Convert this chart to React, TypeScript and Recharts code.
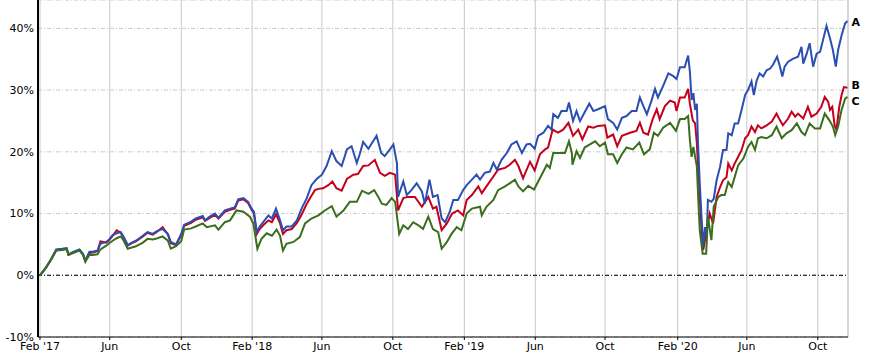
import React from "react";
import { LineChart, Line, XAxis, YAxis, CartesianGrid, ReferenceLine, LabelList } from "recharts";

// x = calendar days since 1 Feb 2017, y = cumulative return in %
const seriesA: [number, number][] = [
  [0,0],[10,1.2],[19,2.6],[28,4.2],[38,4.3],[46,4.4],[49,3.4],[57,3.8],[68,4.2],[74,3.5],[78,2.4],[85,3.8],[91,3.8],[99,4.0],[104,5.1],[114,5.4],[119,5.8],[125,6.5],[132,6.8],[139,7.0],[144,6.2],[151,4.9],[158,5.3],[165,5.6],[177,6.4],[185,7.0],[194,6.7],[202,7.2],[211,7.5],[220,6.7],[225,5.4],[234,5.0],[243,6.7],[248,8.2],[260,8.7],[268,9.2],[280,9.6],
  [284,8.9],[292,9.5],[301,10.0],[307,9.3],[318,10.5],[327,10.8],[335,11.0],[341,12.3],[350,12.5],[358,11.9],[364,10.8],[368,10.3],[373,7.0],[378,7.9],[384,8.6],[393,9.7],[399,9.2],[406,10.8],[413,8.9],[418,7.3],[424,7.9],[433,7.9],[442,8.9],[450,10.8],[459,12.5],[467,14.6],[476,15.6],[485,16.3],[493,17.7],[502,20.1],[510,18.5],[519,17.7],[528,20.4],[536,20.9],[545,18.2],[550,19.6],[556,21.6],[565,20.5],
  [579,22.6],[587,19.8],[593,19.3],[602,20.4],[608,21.2],[614,18.2],[616,12.7],[625,15.2],[631,13.0],[639,13.8],[648,14.9],[657,13.6],[662,11.6],[670,15.5],[676,12.7],[684,13.0],[691,9.2],[697,8.6],[705,10.3],[711,12.2],[719,12.2],[728,13.8],[734,14.6],[743,15.5],[751,16.3],[757,15.5],[765,16.6],[774,16.8],[780,18.2],[786,17.1],[794,18.7],[803,19.8],[811,21.2],[820,21.7],[829,19.8],[837,21.2],[843,21.3],[851,20.5],
  [857,22.6],[866,23.1],[874,24.2],[880,23.6],[883,26.1],[891,25.5],[897,26.6],[906,26.6],[910,28.0],[917,25.0],[923,26.6],[929,25.0],[937,26.4],[945,27.8],[952,26.6],[960,26.9],[972,27.4],[977,25.3],[986,24.7],[993,23.6],[1001,25.5],[1009,25.8],[1018,26.6],[1026,26.6],[1032,28.8],[1038,27.4],[1044,26.1],[1052,28.3],[1058,30.2],[1063,28.8],[1072,30.7],[1081,32.7],[1089,32.3],[1095,31.8],[1101,33.7],[1109,33.7],[1115,35.6],[1118,33.0],[1121,28.4],[1124,29.5],[1127,26.8],[1130,27.8],[1132,21.4],[1135,14.9],[1138,9.5],[1141,4.6],[1144,7.8],[1147,6.2],[1149,12.2],[1155,11.9],[1159,12.4],[1164,15.4],[1170,17.6],[1175,20.3],[1181,20.3],[1184,23.0],[1190,22.7],[1195,24.6],[1201,24.6],[1207,26.8],[1213,29.2],[1218,30.0],[1224,31.4],[1228,29.2],[1233,31.6],[1238,32.7],[1244,32.2],[1250,33.2],[1256,33.5],[1261,34.1],[1268,35.4],[1273,33.8],[1277,32.2],[1281,33.8],[1287,34.6],[1296,35.1],[1304,35.4],[1310,37.0],[1313,34.3],[1319,35.9],[1324,37.6],[1330,33.8],[1336,35.9],[1342,36.2],[1347,38.1],[1353,40.4],[1359,38.4],[1364,36.5],[1369,33.8],[1373,36.5],[1379,38.9],[1385,40.8],[1389,41.2],
];

const seriesB: [number, number][] = [
  [0,0],[10,1.2],[19,2.5],[28,4.1],[38,4.2],[46,4.3],[49,3.3],[57,3.7],[68,4.1],[74,3.4],[78,2.3],[85,3.6],[91,3.7],[99,3.9],[104,5.5],[114,5.3],[119,5.7],[125,6.4],[132,7.3],[139,6.9],[144,6.1],[151,4.8],[158,5.2],[165,5.5],[177,6.3],[185,6.9],[194,6.6],[202,7.1],[211,7.8],[220,6.6],[225,5.2],[234,4.9],[243,6.5],[248,8.0],[260,8.5],[268,9.0],[280,9.4],
  [284,8.8],[292,9.3],[301,9.8],[307,9.2],[318,10.3],[327,10.6],[335,10.8],[341,12.1],[350,12.3],[358,11.7],[364,10.6],[368,10.0],[373,6.7],[378,7.5],[384,8.1],[393,8.9],[399,8.6],[406,9.9],[413,8.4],[418,6.7],[424,7.3],[433,7.5],[442,8.5],[450,9.8],[459,11.6],[467,12.9],[473,13.8],[479,14.0],[487,14.1],[496,14.6],[503,15.2],[510,14.1],[519,13.7],[528,15.6],[539,16.3],[547,16.4],[556,17.7],[565,17.8],
  [576,18.7],[585,16.6],[593,16.1],[602,16.6],[611,16.3],[616,10.5],[625,12.5],[633,12.7],[645,12.7],[657,11.1],[668,12.7],[676,10.8],[682,11.1],[691,7.3],[700,8.4],[709,10.0],[719,10.5],[728,9.7],[734,12.2],[743,13.0],[754,14.4],[760,13.3],[768,14.4],[780,16.0],[788,17.1],[800,17.4],[808,17.9],[817,18.7],[823,17.7],[831,15.7],[843,18.4],[851,17.0],
  [860,19.6],[869,20.4],[874,20.7],[882,23.6],[891,23.1],[900,23.6],[909,24.7],[917,22.6],[926,23.6],[933,22.0],[943,24.1],[952,23.9],[960,24.2],[972,24.3],[976,22.3],[986,22.8],[993,20.9],[1001,22.6],[1015,23.1],[1026,23.4],[1032,24.7],[1038,23.1],[1046,22.8],[1054,25.3],[1061,26.9],[1066,25.3],[1075,27.4],[1084,28.3],[1092,28.0],[1095,26.6],[1101,28.8],[1109,28.8],[1115,30.2],[1118,27.8],[1123,25.1],[1127,24.6],[1130,21.4],[1132,17.6],[1135,12.7],[1138,7.3],[1141,4.1],[1147,7.3],[1152,10.0],[1158,8.4],[1164,12.7],[1170,14.3],[1175,15.4],[1181,15.9],[1184,18.1],[1190,17.0],[1195,18.1],[1201,19.2],[1207,20.3],[1213,22.2],[1218,22.7],[1224,24.1],[1230,23.2],[1235,24.3],[1241,23.8],[1250,24.3],[1259,24.9],[1267,26.2],[1273,25.1],[1278,24.3],[1287,25.4],[1293,26.5],[1299,25.7],[1304,26.2],[1313,25.4],[1321,27.3],[1327,25.7],[1336,26.2],[1344,27.3],[1350,28.9],[1356,28.1],[1359,26.8],[1363,27.3],[1367,24.3],[1370,23.5],[1375,27.3],[1379,29.2],[1383,30.5],[1389,30.4],
];

const seriesC: [number, number][] = [
  [0,0],[10,1.2],[19,2.5],[28,4.0],[38,4.1],[46,4.2],[49,3.3],[57,3.6],[68,4.0],[74,3.3],[78,2.2],[85,3.3],[91,3.3],[99,3.4],[104,4.2],[114,4.8],[119,5.2],[125,5.6],[132,6.0],[139,6.3],[144,5.6],[151,4.3],[158,4.5],[165,4.7],[177,5.3],[185,5.9],[194,5.8],[202,6.0],[211,6.3],[220,5.6],[225,4.3],[234,4.7],[243,5.5],[248,7.4],[260,7.6],[268,7.9],[280,8.4],
  [287,7.8],[301,8.1],[307,7.4],[318,8.6],[327,8.9],[338,10.5],[350,10.3],[361,9.5],[367,8.4],[374,4.3],[381,5.9],[390,6.8],[399,6.4],[407,7.4],[413,6.4],[418,4.0],[424,5.1],[436,5.4],[447,6.2],[456,8.4],[467,9.2],[479,9.7],[490,10.5],[502,11.2],[510,9.5],[522,10.5],[533,11.9],[545,11.9],[554,13.7],[565,13.2],
  [575,13.8],[582,12.7],[588,11.6],[596,11.4],[605,12.5],[611,11.9],[618,6.7],[625,8.1],[633,7.5],[642,8.6],[651,8.1],[659,7.5],[668,9.5],[676,7.5],[685,7.0],[691,4.3],[700,5.4],[708,6.7],[717,7.8],[725,7.3],[734,10.0],[743,10.8],[757,11.1],[760,9.7],[768,11.1],[780,12.2],[788,13.8],[800,14.4],[808,14.9],[817,15.5],[823,14.4],[831,13.6],[840,14.5],
  [850,13.9],[857,15.2],[866,16.8],[872,17.9],[877,17.4],[883,19.8],[891,19.8],[903,19.8],[910,21.7],[915,19.8],[916,17.9],[923,20.1],[929,19.0],[937,20.7],[946,21.2],[955,21.7],[963,20.9],[972,21.5],[977,19.6],[986,19.6],[993,18.2],[1001,19.6],[1009,20.7],[1020,20.4],[1031,21.5],[1039,19.6],[1049,20.4],[1056,23.1],[1063,22.6],[1072,23.9],[1084,24.7],[1094,23.4],[1101,25.3],[1109,25.3],[1115,25.8],[1118,21.9],[1121,19.2],[1124,20.8],[1130,17.6],[1132,13.2],[1135,7.3],[1140,3.5],[1146,3.5],[1149,9.5],[1155,5.7],[1159,11.1],[1167,12.7],[1172,13.0],[1178,13.0],[1184,15.1],[1190,14.3],[1195,15.9],[1201,17.8],[1210,18.9],[1218,20.8],[1224,21.6],[1230,20.3],[1235,22.2],[1241,22.4],[1250,22.2],[1259,22.7],[1267,24.1],[1276,22.2],[1284,23.0],[1293,23.5],[1302,24.6],[1310,23.2],[1316,22.7],[1324,24.6],[1333,23.8],[1342,23.8],[1350,26.2],[1358,25.1],[1364,24.1],[1368,22.7],[1373,24.1],[1379,26.8],[1385,28.6],[1389,28.9],
];

const seriesNames = ["A", "B", "C"];
const tickDays = [0, 120, 243, 365, 485, 607, 730, 852, 972, 1097, 1216, 1338];
const tickLabels = ["Feb '17", "Jun", "Oct", "Feb '18", "Jun", "Oct", "Feb '19", "Jun", "Oct", "Feb '20", "Jun", "Oct"];
const yTicks = [-10, 0, 10, 20, 30, 40];
const xDomain: [number, number] = [-3.4, 1390];
const yDomain: [number, number] = [-10, 44.6];

const toRows = (s: [number, number][]) => s.map(([d, v]) => ({ d, v }));
const dataA = toRows(seriesA);
const dataB = toRows(seriesB);
const dataC = toRows(seriesC);

const FONT = "DejaVu Sans";

const endLabel = (name: string, lastIndex: number, dy: number) => (props: any) => {
  const { x, y, index } = props;
  if (index !== lastIndex) return <g />;
  return (
    <text x={Number(x) + 4} y={Number(y) + dy} dy="0.35em" fontFamily={FONT} fontSize={11} fontWeight="bold" fill="#000" textAnchor="start">
      {name}
    </text>
  );
};

export default function App() {
  return (
    <div style={{ position: "absolute", left: 0, top: 0, width: 880, height: 363, background: "#fff" }}>
      <LineChart width={880} height={363} margin={{ top: 0, right: 32, bottom: 0, left: 0 }}>
        <CartesianGrid horizontal={true} vertical={false} stroke="#c8c8c8" strokeDasharray="4 2 1 2" />
        <CartesianGrid horizontal={false} vertical={true} stroke="#c8c8c8" />
        <XAxis
          type="number"
          dataKey="d"
          domain={xDomain}
          allowDataOverflow
          ticks={tickDays}
          interval={0}
          tickFormatter={(v: number) => tickLabels[tickDays.indexOf(v)] ?? ""}
          height={26}
          tickSize={3}
          tickMargin={2}
          stroke="#000"
          tick={{ fill: "#000", fontFamily: FONT, fontSize: 11 }}
        />
        <YAxis
          type="number"
          domain={yDomain}
          allowDataOverflow
          ticks={yTicks}
          interval={0}
          tickFormatter={(v: number) => `${v}%`}
          width={38}
          tickLine={false}
          tickSize={0}
          tickMargin={4}
          stroke="#000"
          strokeWidth={2}
          tick={{ fill: "#000", fontFamily: FONT, fontSize: 11 }}
        />
        <ReferenceLine x={xDomain[1]} stroke="#c8c8c8" />
        <ReferenceLine y={0} stroke="#000" strokeDasharray="4 2 1 2" />
        <Line data={dataB} dataKey="v" type="linear" stroke="#c4001c" strokeWidth={2} dot={false} isAnimationActive={false}>
          <LabelList dataKey="v" content={endLabel(seriesNames[1], dataB.length - 1, -2.6)} />
        </Line>
        <Line data={dataA} dataKey="v" type="linear" stroke="#2b4eb2" strokeWidth={2} dot={false} isAnimationActive={false}>
          <LabelList dataKey="v" content={endLabel(seriesNames[0], dataA.length - 1, 1.3)} />
        </Line>
        <Line data={dataC} dataKey="v" type="linear" stroke="#3b6e1c" strokeWidth={2} dot={false} isAnimationActive={false}>
          <LabelList dataKey="v" content={endLabel(seriesNames[2], dataC.length - 1, 3.8)} />
        </Line>
      </LineChart>
    </div>
  );
}
